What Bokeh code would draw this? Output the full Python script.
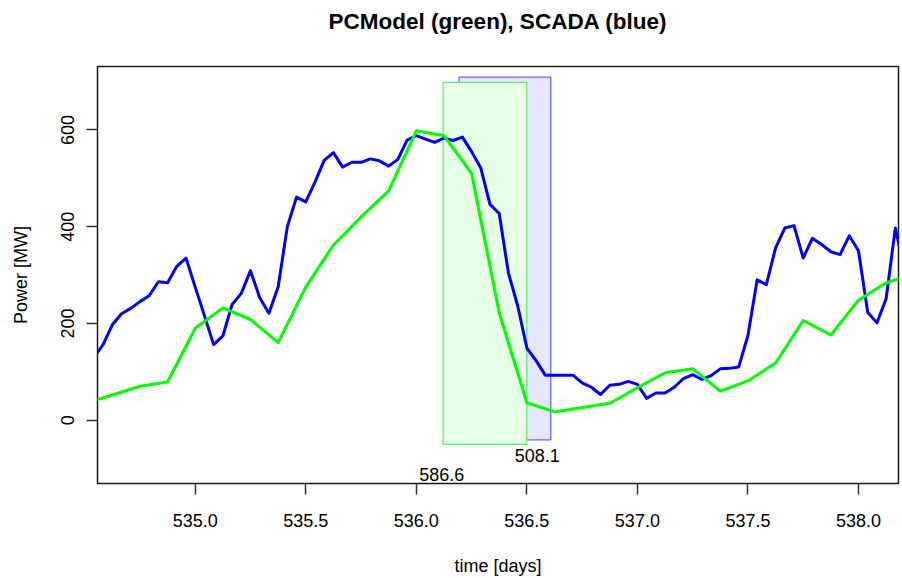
from bokeh.plotting import figure
from bokeh.models import Range1d, FixedTicker, PrintfTickFormatter, LinearAxis
from bokeh.embed import file_html
from bokeh.resources import INLINE
from bokeh.core.properties import value

title_text = "PCModel (green), SCADA (blue)"
x_label = "time [days]"
y_label = "Power [MW]"

scada_time = [
    534.5417, 534.5833, 534.625, 534.6667, 534.7083, 534.75, 534.7917, 534.8333, 534.875, 534.9167, 534.9583,
    535.0, 535.0417, 535.0833, 535.125, 535.1667, 535.2083, 535.25, 535.2917, 535.3333, 535.375, 535.4167, 535.4583,
    535.5, 535.5417, 535.5833, 535.625, 535.6667, 535.7083, 535.75, 535.7917, 535.8333, 535.875, 535.9167, 535.9583,
    536.0, 536.0417, 536.0833, 536.125, 536.1667, 536.2083, 536.25, 536.2917, 536.3333, 536.375, 536.4167, 536.4583,
    536.5, 536.5417, 536.5833, 536.625, 536.6667, 536.7083, 536.75, 536.7917, 536.8333, 536.875, 536.9167, 536.9583,
    537.0, 537.0417, 537.0833, 537.125, 537.1667, 537.2083, 537.25, 537.2917, 537.3333, 537.375, 537.4167, 537.4583,
    537.5, 537.5417, 537.5833, 537.625, 537.6667, 537.7083, 537.75, 537.7917, 537.8333, 537.875, 537.9167, 537.9583,
    538.0, 538.0417, 538.0833, 538.125, 538.1667, 538.2083,
]
scada_power = [
    130, 156, 197, 220, 231, 245, 257, 286, 284, 318, 335,
    275, 216, 156, 174, 239, 262, 309, 253, 221, 275, 400, 461, 451, 492, 537, 553, 523, 533, 533, 540, 536, 525, 539, 579,
    588, 581, 574, 583, 578, 585, 555, 521, 446, 427, 304, 237, 149, 123, 93, 93, 93, 93, 77, 68, 53, 72, 74, 80,
    74, 45, 56, 56, 68, 86, 94, 84, 92, 106, 107, 110, 175, 290, 280, 356, 397, 402, 335, 376, 363, 348, 342, 381,
    350, 223, 201, 251, 397, 310,
]

model_time = [
    534.5, 534.625, 534.75, 534.875, 535.0, 535.125, 535.25, 535.375, 535.5, 535.625, 535.75, 535.875,
    536.0, 536.125, 536.25, 536.375, 536.5, 536.625, 536.75, 536.875, 537.0, 537.125, 537.25, 537.375,
    537.5, 537.625, 537.75, 537.875, 538.0, 538.125, 538.25,
]
model_power = [
    34, 52, 70, 79, 190, 232, 208, 160, 275, 362, 420, 474,
    598, 588, 510, 222, 36, 17, 26, 35, 67, 98, 106, 60,
    81, 118, 206, 176, 248, 284, 302,
]

x_ticks = [535.0, 535.5, 536.0, 536.5, 537.0, 537.5, 538.0]
y_ticks = [0, 200, 400, 600]

# ramp windows: [left, right, bottom, top]
scada_ramp = [536.193, 536.608, -41, 709]
model_ramp = [536.121, 536.500, -50, 698]
scada_ramp_label = "508.1"
model_ramp_label = "586.6"
scada_label_pos = [536.547, -73]
model_label_pos = [536.115, -112]

X_MIN, X_MAX = 534.558, 538.181
Y_MIN, Y_MAX = -131, 731
FONT = "Liberation Sans"

p = figure(width=900, height=578, output_backend="svg", toolbar_location=None,
           x_range=Range1d(X_MIN, X_MAX), y_range=Range1d(Y_MIN, Y_MAX),
           min_border_left=97, min_border_right=2, min_border_top=66, min_border_bottom=94)

p.background_fill_color = "white"
p.border_fill_color = "white"
p.xgrid.visible = False
p.ygrid.visible = False
p.outline_line_color = "#1a1a1a"
p.outline_line_width = 1.5

# ramp rectangles
p.quad(left=[scada_ramp[0]], right=[scada_ramp[1]], bottom=[scada_ramp[2]], top=[scada_ramp[3]],
       fill_color="#e6e6ff", line_color="#6666ff", line_width=1.3)
p.quad(left=[model_ramp[0]], right=[model_ramp[1]], bottom=[model_ramp[2]], top=[model_ramp[3]],
       fill_color="#e6ffe6", line_color="#66ee66", line_width=1.3)

p.line(scada_time, scada_power, line_color="#0000ff", line_width=3, line_join="round")
p.line(model_time, model_power, line_color="#00ff00", line_width=3, line_join="round")

p.text(x=[scada_label_pos[0], model_label_pos[0]], y=[scada_label_pos[1], model_label_pos[1]],
       text=[scada_ramp_label, model_ramp_label], text_font=value(FONT), text_font_size="18px",
       text_align="center", text_baseline="middle", text_color="black")

xax = p.below[0]
yax = p.left[0]

for ax in (xax, yax):
    ax.axis_line_color = None
    ax.major_tick_line_color = "#333333"
    ax.major_tick_line_width = 1.5
    ax.major_tick_out = 11
    ax.major_tick_in = 0
    ax.minor_tick_line_color = None
    ax.major_label_text_font = FONT
    ax.major_label_text_font_size = "18px"
    ax.major_label_text_color = "black"
    ax.axis_label_text_font = FONT
    ax.axis_label_text_font_size = "18px"
    ax.axis_label_text_font_style = "normal"
    ax.axis_label_text_color = "black"

xax.ticker = FixedTicker(ticks=x_ticks)
xax.formatter = PrintfTickFormatter(format="%.1f")
xax.axis_label = x_label
xax.major_label_standoff = 19
xax.axis_label_standoff = 26

yax.ticker = FixedTicker(ticks=y_ticks)
yax.axis_label = y_label
yax.major_label_orientation = "vertical"
yax.major_label_standoff = 12
yax.axis_label_standoff = 28

# main title, drawn as the label of a tick-less axis above the plot region
title_axis = LinearAxis(ticker=FixedTicker(ticks=[]), axis_label=title_text,
                        axis_line_color=None, major_tick_line_color=None, minor_tick_line_color=None,
                        major_tick_out=0, major_tick_in=0, minor_tick_out=0, minor_tick_in=0,
                        major_label_standoff=0, axis_label_standoff=33,
                        axis_label_text_font=FONT, axis_label_text_font_size="22.5px",
                        axis_label_text_font_style="bold", axis_label_text_color="black")
p.add_layout(title_axis, "above")

open("out.html", "w").write(file_html(p, INLINE))
